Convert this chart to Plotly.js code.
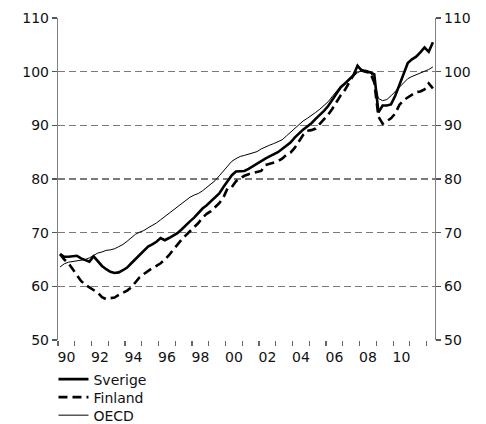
<!DOCTYPE html>
<html>
<head>
<meta charset="utf-8">
<script src="https://cdn.plot.ly/plotly-3.0.1.min.js"></script>
<style>html,body{margin:0;padding:0;background:#fff;}#chart{width:486px;height:424px;}</style>
</head>
<body>
<div id="chart"></div>
<script>
// Quarterly index, 1990Q1 .. 2012Q2
const startYear = 1990;
const sverige = [
  66.0, 65.5, 65.5, 65.6,
  65.7, 65.2, 64.9, 64.6,
  65.6, 64.7, 63.8, 63.2,
  62.7, 62.5, 62.6, 63.0,
  63.5, 64.3, 65.1, 65.9,
  66.7, 67.4, 67.8, 68.3,
  69.0, 68.6, 69.0, 69.4,
  69.9, 70.6, 71.4, 72.1,
  72.8, 73.7, 74.5, 75.1,
  75.8, 76.5, 77.3, 78.5,
  79.6, 80.7, 81.4, 81.4,
  81.5, 81.9, 82.4, 82.9,
  83.3, 83.8, 84.2, 84.6,
  85.0, 85.6, 86.2, 86.8,
  87.7, 88.5, 89.2, 89.8,
  90.4, 91.2, 91.9, 92.7,
  93.6, 94.7, 95.9, 97.1,
  97.8, 98.6, 99.3, 101.1,
  100.2, 100.0, 99.9, 99.5,
  92.4, 93.7, 93.7, 93.9,
  95.5, 97.5, 99.6, 101.6,
  102.3, 102.8, 103.6, 104.5,
  103.7, 105.5
];
const finland = [
  66.0, 65.0, 64.3, 63.2,
  61.9, 61.0, 60.3, 59.8,
  59.3, 58.8, 58.0, 57.6,
  57.8, 57.9, 58.4, 58.8,
  59.2, 59.8, 60.8, 61.7,
  62.3, 62.9, 63.4, 63.8,
  64.3, 65.0, 65.8, 66.8,
  67.8, 68.7, 69.5, 70.3,
  70.9, 71.8, 72.8, 73.5,
  74.0, 74.7, 75.5, 76.6,
  78.3, 78.5, 79.6, 80.1,
  80.6, 80.9, 81.1, 81.3,
  81.5, 82.6, 82.8, 83.0,
  83.3, 83.8, 84.5, 84.9,
  85.8, 87.0, 88.2, 89.0,
  89.1, 89.4, 90.3, 91.0,
  92.0, 93.1, 94.4, 95.6,
  96.6, 98.0, 99.3, 100.4,
  100.3, 100.0, 99.8, 98.0,
  91.6, 90.3, 90.8, 91.3,
  92.2, 93.8, 94.7, 95.2,
  95.8, 96.2, 96.3, 96.7,
  97.8, 96.9
];
const oecd = [
  63.6, 64.2, 64.5, 64.6,
  64.7, 64.9, 65.0, 65.3,
  65.7, 66.2, 66.4, 66.7,
  66.8, 67.0, 67.4, 67.8,
  68.4, 69.0, 69.7, 70.1,
  70.4, 70.9, 71.3, 71.8,
  72.4, 73.0, 73.5, 74.1,
  74.8, 75.4, 76.0, 76.6,
  77.0, 77.3, 77.8, 78.4,
  79.0, 79.7, 80.6, 81.5,
  82.5, 83.3, 83.8, 84.2,
  84.4, 84.6, 84.8, 85.1,
  85.6, 86.0, 86.3, 86.6,
  86.9, 87.3, 88.0, 88.7,
  89.4, 90.1, 90.8, 91.3,
  91.8, 92.4, 93.0, 93.7,
  94.4, 95.4, 96.3, 97.3,
  97.8, 98.4, 99.1, 99.8,
  100.2, 100.3, 100.0, 98.5,
  95.0, 94.6, 94.8, 95.5,
  96.3, 97.2, 98.0, 98.7,
  99.1, 99.4, 99.7, 100.0,
  100.4, 100.9
];
const tickYears = [1990, 1992, 1994, 1996, 1998, 2000, 2002, 2004, 2006, 2008, 2010];
const tickLabels = ['90', '92', '94', '96', '98', '00', '02', '04', '06', '08', '10'];
const yearTicks = [1990, 1991, 1992, 1993, 1994, 1995, 1996, 1997, 1998, 1999, 2000, 2001,
                   2002, 2003, 2004, 2005, 2006, 2007, 2008, 2009, 2010, 2011, 2012];
const yTicks = [50, 60, 70, 80, 90, 100, 110];

const quarterX = sverige.map((_, i) => startYear + (i + 0.5) / 4);

const font = {family: 'DejaVu Sans, Verdana, sans-serif', size: 14, color: '#111'};

const traces = [
  {x: quarterX, y: sverige, name: 'Sverige', type: 'scatter', mode: 'lines',
   line: {color: '#000', width: 2.6}, legend: 'legend'},
  {x: quarterX, y: finland, name: 'Finland', type: 'scatter', mode: 'lines',
   line: {color: '#000', width: 2.6, dash: '9px,5px'}, legend: 'legend2'},
  {x: quarterX, y: oecd, name: 'OECD', type: 'scatter', mode: 'lines',
   line: {color: '#000', width: 1}, legend: 'legend3'},
  {x: [null], y: [null], xaxis: 'x2', yaxis: 'y2', showlegend: false, hoverinfo: 'skip', type: 'scatter'}
];

const yCommon = {
  range: [50, 110], tickvals: yTicks, ticks: 'outside', ticklen: 5, tickwidth: 1.2,
  tickcolor: '#555', showline: true, linecolor: '#808080', linewidth: 1.2,
  zeroline: false, tickfont: font, fixedrange: true
};

const legendBase = {x: -0.012, xanchor: 'left', yanchor: 'top', font: font,
                    bgcolor: 'rgba(0,0,0,0)'};

const layout = {
  width: 486, height: 424,
  margin: {l: 58, r: 51, t: 18, b: 84, autoexpand: false},
  paper_bgcolor: '#fff', plot_bgcolor: '#fff',
  font: font,
  showlegend: true,
  legend: Object.assign({}, legendBase, {y: -0.073}),
  legend2: Object.assign({}, legendBase, {y: -0.129}),
  legend3: Object.assign({}, legendBase, {y: -0.185}),
  xaxis: {
    range: [1990, 2012.5],
    tickmode: 'array', tickvals: yearTicks, ticktext: yearTicks.map(() => ''),
    ticks: 'outside', ticklen: 5, tickwidth: 1.2, tickcolor: '#666',
    showgrid: false, zeroline: false, showline: false
  },
  xaxis2: {
    range: [1990, 2012.5], overlaying: 'x', side: 'bottom',
    tickmode: 'array', tickvals: tickYears.map(v => v + 0.5), ticktext: tickLabels,
    ticks: 'outside', ticklen: 4, tickcolor: 'rgba(0,0,0,0)',
    showgrid: false, zeroline: false, showline: false, tickfont: font
  },
  yaxis: Object.assign({}, yCommon, {
    side: 'left', showgrid: true, gridcolor: '#7a7a7a', gridwidth: 1.6,
    griddash: '7px,4px'
  }),
  yaxis2: Object.assign({}, yCommon, {
    side: 'right', overlaying: 'y', matches: 'y', showgrid: false
  })
};

Plotly.newPlot('chart', traces, layout, {displayModeBar: false, staticPlot: true});
</script>
</body>
</html>
